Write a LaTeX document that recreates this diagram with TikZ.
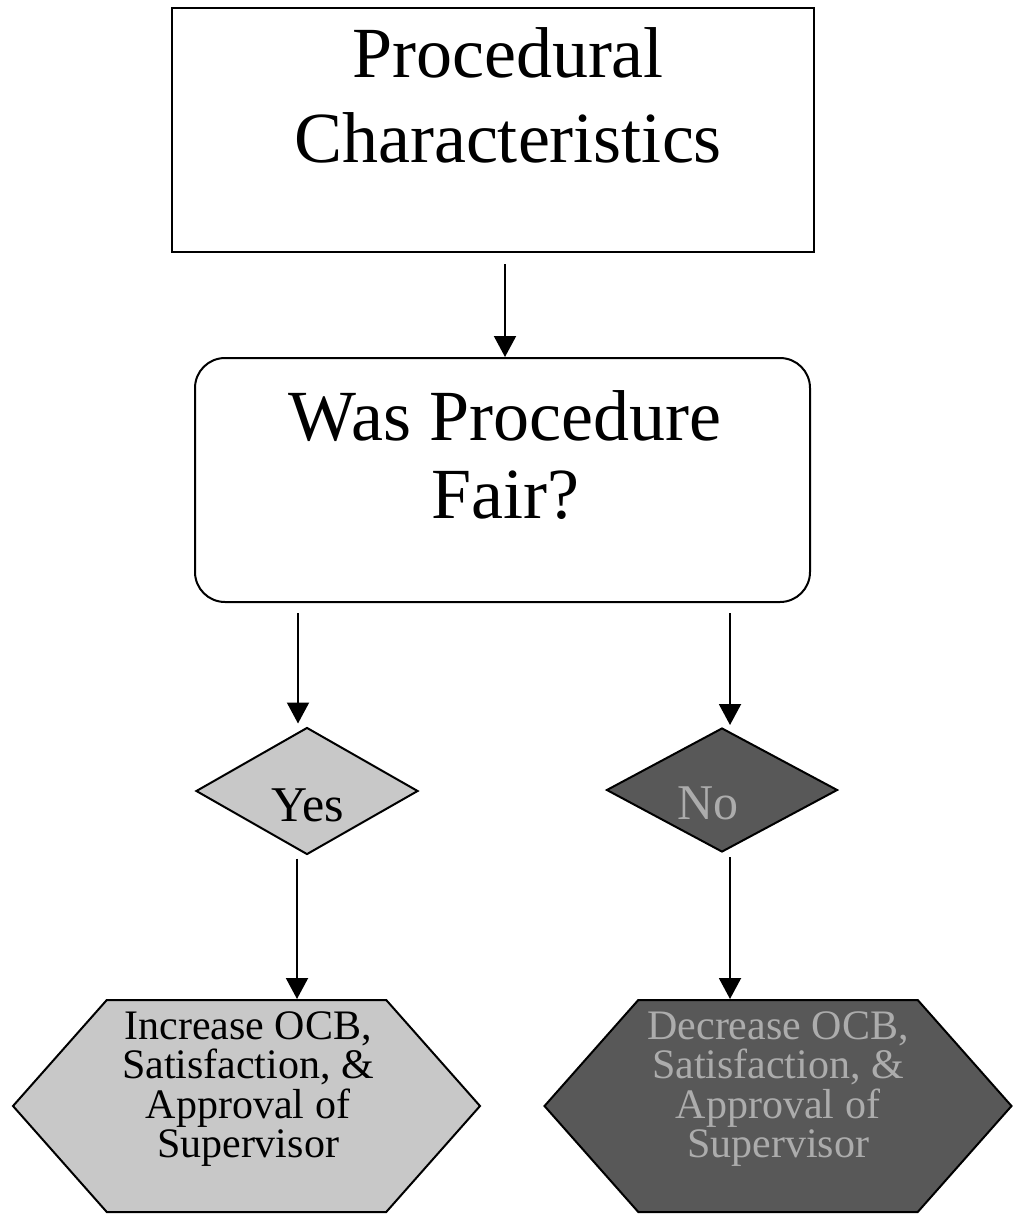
\documentclass[tikz,border=0pt]{standalone}
\usepackage{fontspec}
\setmainfont{Liberation Serif}
\usetikzlibrary{arrows.meta,shapes.geometric,shapes.symbols}
\definecolor{fill_light}{RGB}{200,200,200}
\definecolor{fill_dark}{RGB}{88,88,88}
\definecolor{text_dark}{RGB}{172,172,172}

\begin{document}
\begin{tikzpicture}[->,x=1pt,y=-1pt,line width=2pt,>={Triangle[length=21pt,width=22pt]}]
    \tikzstyle{topbox}=[draw, rectangle, minimum width=642pt, minimum height=244pt, inner sep=0pt]
    \tikzstyle{askbox}=[draw, rectangle, rounded corners=30pt, minimum width=615pt, minimum height=244pt, inner sep=0pt]
    \tikzstyle{answer}=[draw, diamond, inner sep=0pt]
    \tikzstyle{result}=[draw, signal, signal to=west and east, signal pointer angle=97, minimum width=467pt, minimum height=212pt, inner sep=0pt]
    \tikzstyle{bigtext}=[align=center, inner sep=0pt, font=\fontsize{72}{85}\selectfont]
    \tikzstyle{midtext}=[inner sep=0pt, font=\fontsize{50}{60}\selectfont]
    \tikzstyle{smalltext}=[align=center, inner sep=0pt, font=\fontsize{42}{39.5}\selectfont]

    \useasboundingbox (0,0) rectangle (1013,1218);

    \node[topbox] (proc) at (493,130) {};
    \node[askbox] (fair) at (502.5,480) {};
    \node[answer, fill=fill_light, minimum width=222pt, minimum height=127pt] (yes) at (307,791) {};
    \node[answer, fill=fill_dark, minimum width=231pt, minimum height=124pt] (no) at (722,790) {};
    \node[result, fill=fill_light] (inc) at (246.5,1106) {};
    \node[result, fill=fill_dark] (dec) at (778,1106) {};

    % texts
    \node[bigtext] (proctxt) at (508,95) {Procedural\\Characteristics};
    \node[bigtext, font=\fontsize{72}{78}\selectfont] (fairtxt) at (505,455) {Was Procedure\\Fair?};
    \node[midtext] (yestxt) at (308,805) {Yes};
    \node[midtext, text=text_dark] (notxt) at (708,803) {No};
    \node[smalltext] (inctxt) at (248,1089) {Increase OCB,\\Satisfaction, \&\\Approval of\\Supervisor};
    \node[smalltext, text=text_dark] (dectxt) at (778,1089) {Decrease OCB,\\Satisfaction, \&\\Approval of\\Supervisor};

    \path
     ([xshift=12pt,yshift=-11pt]proc.south) edge ([xshift=2.5pt]fair.north)
     ([xshift=-204.5pt,yshift=-10pt]fair.south) edge ([xshift=-9pt,yshift=3pt]yes.north)
     ([xshift=227.5pt,yshift=-10pt]fair.south) edge ([xshift=8pt,yshift=2pt]no.north)
     ([xshift=-10pt,yshift=-3pt]yes.south) edge ([xshift=50.5pt]inc.north)
     ([xshift=8pt,yshift=-4pt]no.south) edge ([xshift=-48pt]dec.north)
     ;
\end{tikzpicture}
\end{document}
